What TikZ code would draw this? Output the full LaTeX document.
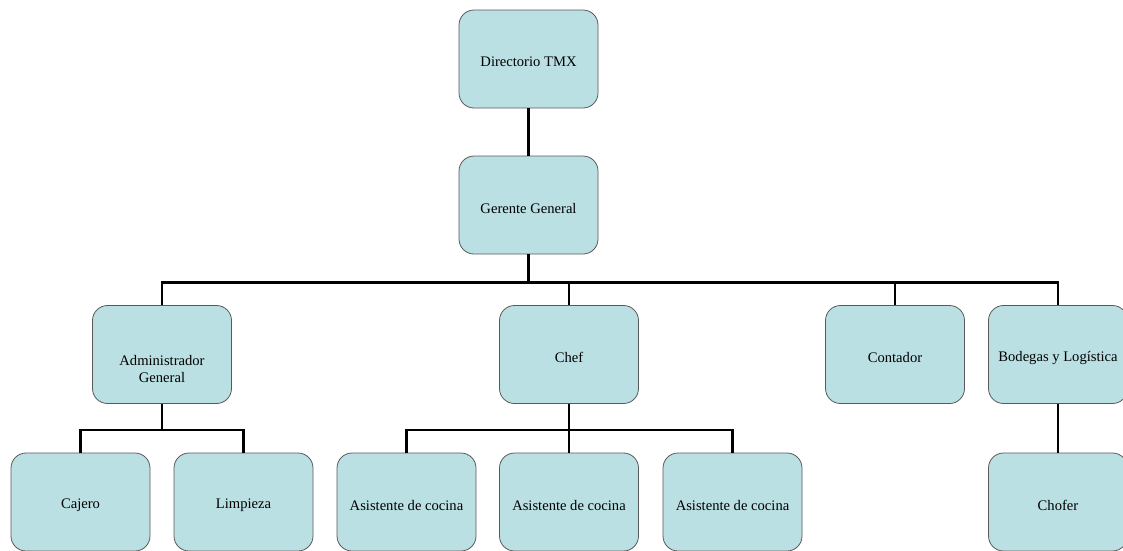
\documentclass[tikz,border=0pt]{standalone}
\usepackage{fontspec}
\setmainfont{Liberation Serif}
\begin{document}
\begin{tikzpicture}[x=1pt,y=-1pt,
  box/.style={draw=black!65, line width=0.8pt, fill=boxfill, rounded corners=15pt,
    minimum width=139pt, minimum height=98pt},
  lbl/.style={align=center, font=\fontsize{14.6}{17}\selectfont, inner sep=1pt, yshift=-3pt},
  conn/.style={line width=2.6pt, black}]
\definecolor{boxfill}{HTML}{BBE0E3}
\useasboundingbox (0,0) rectangle (1123,550);
\clip (0,0) rectangle (1123,550);
\node[box, label={[lbl]center:Directorio TMX}] (dir) at (528.5,59) {};
\node[box, label={[lbl]center:Gerente General}] (ger) at (528.5,205) {};
\node[box, label={[lbl,yshift=-11pt]center:Administrador\\General}] (adm) at (162,354.5) {};
\node[box, label={[lbl]center:Chef}] (chef) at (569,354.5) {};
\node[box, label={[lbl]center:Contador}] (cont) at (895,354.5) {};
\node[box, label={[lbl]center:Bodegas y Logística}] (bod) at (1058,354.5) {};
\node[box, label={[lbl]center:Cajero}] (caj) at (80.5,502) {};
\node[box, label={[lbl]center:Limpieza}] (lim) at (243.5,502) {};
\node[box, label={[lbl]center:Asistente de cocina}] (as1) at (406.5,502) {};
\node[box, label={[lbl]center:Asistente de cocina}] (as2) at (569,502) {};
\node[box, label={[lbl]center:Asistente de cocina}] (as3) at (732.5,502) {};
\node[box, label={[lbl]center:Chofer}] (cho) at (1058,502) {};
\draw[conn] (dir.south) -- (ger.north);
\foreach \c in {adm,chef,cont,bod}
  \draw[conn] (ger.south) -- ++(0,28) -| (\c.north);
\foreach \c in {caj,lim}
  \draw[conn] (adm.south) -- ++(0,26) -| (\c.north);
\foreach \c in {as1,as2,as3}
  \draw[conn] (chef.south) -- ++(0,26) -| (\c.north);
\draw[conn] (bod.south) -- (cho.north);
\end{tikzpicture}
\end{document}
